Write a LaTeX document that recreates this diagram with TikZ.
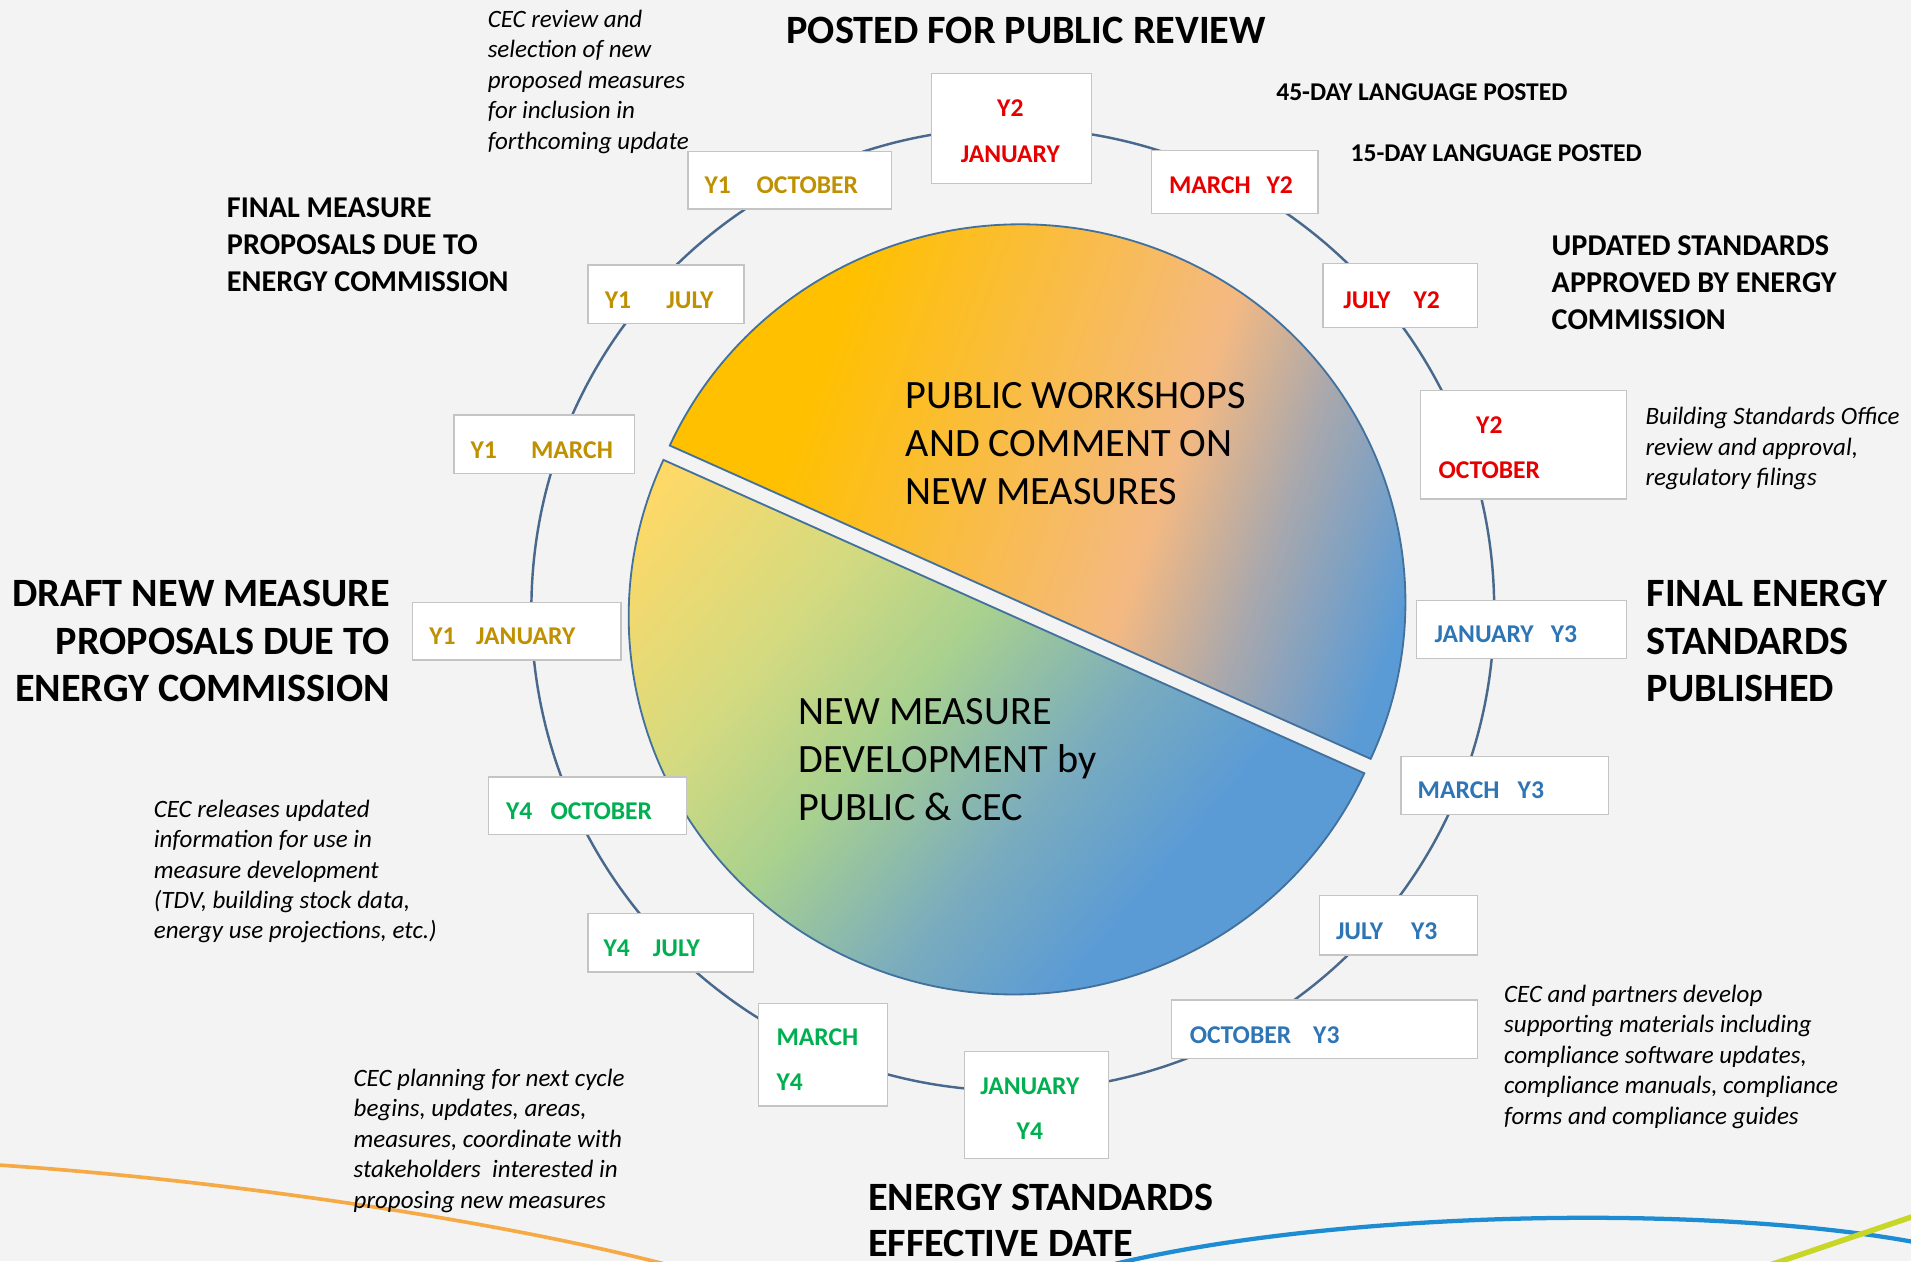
\documentclass[tikz,border=0pt]{standalone}
\usepackage{fontspec}
\setmainfont{Carlito}

\definecolor{bgpaper}{RGB}{243,243,243}
\definecolor{ringline}{RGB}{72,104,140}
\definecolor{pieline}{RGB}{65,113,156}
\definecolor{boxline}{RGB}{196,196,196}
\definecolor{yonegold}{RGB}{191,144,0}
\definecolor{ytwored}{RGB}{230,0,0}
\definecolor{ythreeblue}{RGB}{46,117,182}
\definecolor{yfourgreen}{RGB}{0,176,80}
\definecolor{wsgold}{RGB}{255,192,0}
\definecolor{wspeach}{RGB}{244,185,130}
\definecolor{wsgrey}{RGB}{170,168,172}
\definecolor{wsblue}{RGB}{91,155,213}
\definecolor{mdyellow}{RGB}{255,217,102}
\definecolor{mdlime}{RGB}{212,218,128}
\definecolor{mdgreen}{RGB}{169,209,142}
\definecolor{mdteal}{RGB}{122,172,190}
\definecolor{mdblue}{RGB}{91,155,213}
\definecolor{swooshorange}{RGB}{245,170,70}
\definecolor{swooshblue}{RGB}{30,140,210}
\definecolor{swooshlime}{RGB}{200,214,40}

\pgfdeclarehorizontalshading{wsshade}{100bp}{color(0bp)=(wsgold); color(32bp)=(wsgold); color(57bp)=(wspeach); color(65bp)=(wsgrey); color(75bp)=(wsblue); color(100bp)=(wsblue)}
\pgfdeclarehorizontalshading{mdshade}{100bp}{color(0bp)=(mdyellow); color(20bp)=(mdyellow); color(34bp)=(mdlime); color(44bp)=(mdgreen); color(56bp)=(mdteal); color(66bp)=(mdblue); color(100bp)=(mdblue)}

\begin{document}
\begin{tikzpicture}[x=1pt,y=1pt,
    datebox/.style={draw=boxline, fill=white, line width=1pt, inner sep=0pt},
    datetext/.style={font=\fontsize{21}{37}\selectfont\bfseries, inner sep=0pt},
    headbig/.style={font=\fontsize{33}{39}\selectfont\bfseries, inner sep=0pt},
    headmid/.style={font=\fontsize{24.8}{30.5}\selectfont\bfseries, inner sep=0pt, align=left},
    headsmall/.style={font=\fontsize{21}{25}\selectfont\bfseries, inner sep=0pt},
    note/.style={font=\fontsize{20.5}{25}\selectfont\itshape, inner sep=0pt, align=left},
    pietext/.style={font=\fontsize{33}{39.5}\selectfont, inner sep=0pt, align=left}]
    \fill[bgpaper] (0,0) rectangle (1568,-1035);
    \useasboundingbox (0,0) rectangle (1568,-1035);

    % Faixas decorativas no rodape
    \draw[swooshorange, line width=3pt] (0,-956) .. controls (180,-968) and (400,-1000) .. (545,-1037);
    \draw[swooshblue, line width=3.5pt] (915,-1037) .. controls (1100,-993) and (1400,-988) .. (1570,-1019);
    \draw[swooshlime, line width=4.5pt] (1452,-1038) -- (1570,-998);

    % Anel do ciclo
    \draw[ringline, line width=2pt] (831,-500) circle[radius=395];

    % Pizza em duas metades
    \coordinate (wsc) at (837.1,-494.1);
    \coordinate (mdc) at (831.9,-505.9);
    \shade[shading=wsshade, shading angle=-20, draw=pieline, line width=1.5pt]
        (wsc) -- ++(-24.5:316 and 310) arc[start angle=-24.5, end angle=155.5, x radius=316, y radius=310] -- cycle;
    \shade[shading=mdshade, shading angle=-40, draw=pieline, line width=1.5pt]
        (mdc) -- ++(155.5:316 and 310) arc[start angle=155.5, end angle=335.5, x radius=316, y radius=310] -- cycle;
    \node[pietext, anchor=north west] (workshops) at (743,-313.5) {PUBLIC WORKSHOPS\\AND COMMENT ON\\NEW MEASURES};
    \node[pietext, anchor=north west] (development) at (655,-572.5) {NEW MEASURE\\DEVELOPMENT by\\PUBLIC \& CEC};

    % Datas: caixa x/y/largura/altura/texto x/linha de base/cor/texto
    \foreach \bx/\by/\bw/\bh/\tx/\ty/\col/\txt [count=\i] in {
        944/123/137/52/959/159/ytwored/{MARCH\hspace{13pt}Y2},
        1085/216/127/52/1102/253/ytwored/{JULY\hspace{19pt}Y2},
        1162/492/172/48/1177/527/ythreeblue/{JANUARY\hspace{14pt}Y3},
        1149/620/170/48/1163/655/ythreeblue/{MARCH\hspace{15pt}Y3},
        1082/734/130/49/1096/771/ythreeblue/{JULY\hspace{23pt}Y3},
        961/820/251/48/976/856/ythreeblue/{OCTOBER\hspace{18pt}Y3},
        482/749/136/48/495/785/yfourgreen/{Y4\hspace{19pt}JULY},
        400/637/163/47/415/672/yfourgreen/{Y4\hspace{15pt}OCTOBER},
        338/494/171/47/352/529/yonegold/{Y1\hspace{17pt}JANUARY},
        372/340/148/48/386/376/yonegold/{Y1\hspace{28pt}MARCH},
        482/217/128/48/496/253/yonegold/{Y1\hspace{29pt}JULY},
        564/124/167/47/578/159/yonegold/{Y1\hspace{21pt}OCTOBER}} {
        \node[datebox, anchor=north west, minimum width=\bw pt, minimum height=\bh pt] (d\i) at (\bx,-\by) {};
        \node[datetext, text=\col, anchor=base west] (t\i) at (\tx,-\ty) {\txt};
    }
    % Caixas de duas linhas
    \node[datebox, anchor=north west, minimum width=131pt, minimum height=90pt] (janytwo) at (764,-60) {};
    \node[datetext, text=ytwored, align=center, anchor=north] (janytwot) at (829,-82) {Y2\\JANUARY};
    \node[datebox, anchor=north west, minimum width=169pt, minimum height=89pt] (octytwo) at (1165,-320) {};
    \node[datetext, text=ytwored, align=center, anchor=north] (octytwot) at (1222,-342) {Y2\\OCTOBER};
    \node[datebox, anchor=north west, minimum width=118pt, minimum height=88pt] (janyfour) at (791,-862) {};
    \node[datetext, text=yfourgreen, align=center, anchor=north] (janyfourt) at (845,-884) {JANUARY\\Y4};
    \node[datebox, anchor=north west, minimum width=106pt, minimum height=84pt] (maryfour) at (622,-823) {};
    \node[datetext, text=yfourgreen, align=left, anchor=north west] (maryfourt) at (637,-844) {MARCH\\Y4};

    % Marcos do ciclo
    \node[headbig, anchor=center] (posted) at (842,-25) {POSTED FOR PUBLIC REVIEW};
    \node[headsmall, anchor=west] (langfortyfive) at (1047,-76) {45-DAY LANGUAGE POSTED};
    \node[headsmall, anchor=west] (langfifteen) at (1108,-126) {15-DAY LANGUAGE POSTED};
    \node[headmid, anchor=north west] (approved) at (1273,-193) {UPDATED STANDARDS\\APPROVED BY ENERGY\\COMMISSION};
    \node[headmid, anchor=north west] (finalmeas) at (186,-162) {FINAL MEASURE\\PROPOSALS DUE TO\\ENERGY COMMISSION};
    \node[headbig, align=right, anchor=north east] (draftmeas) at (320,-476) {DRAFT NEW MEASURE\\PROPOSALS DUE TO\\ENERGY COMMISSION};
    \node[headbig, align=left, anchor=north west] (published) at (1351,-476) {FINAL ENERGY\\STANDARDS\\PUBLISHED};
    \node[headbig, font=\fontsize{33}{38}\selectfont\bfseries, align=left, anchor=north west] (effective) at (712,-971) {ENERGY STANDARDS\\EFFECTIVE DATE};

    % Notas em italico
    \node[note, anchor=north west] (noteselect) at (400,-8) {CEC review and\\selection of new\\proposed measures\\for inclusion in\\forthcoming update};
    \node[note, anchor=north west] (noteoffice) at (1350,-334) {Building Standards Office\\review and approval,\\regulatory filings};
    \node[note, anchor=north west] (notereleases) at (126,-656) {CEC releases updated\\information for use in\\measure development\\(TDV, building stock data,\\energy use projections, etc.)};
    \node[note, anchor=north west] (noteplanning) at (290,-877) {CEC planning for next cycle\\begins, updates, areas,\\measures, coordinate with\\stakeholders\ \ interested in\\proposing new measures};
    \node[note, anchor=north west] (notepartners) at (1234,-808) {CEC and partners develop\\supporting materials including\\compliance software updates,\\compliance manuals, compliance\\forms and compliance guides};
\end{tikzpicture}
\end{document}
